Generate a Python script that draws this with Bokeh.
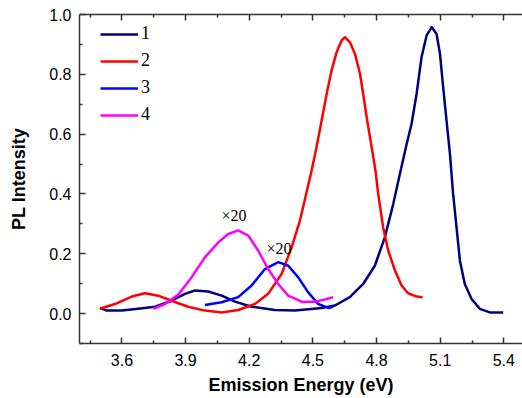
from bokeh.plotting import figure
from bokeh.models import Range1d, FixedTicker, LinearAxis, Label, PrintfTickFormatter, CustomJSTickFormatter
from bokeh.embed import file_html
from bokeh.resources import INLINE

# Curve 1 (navy)
x1 = [3.496, 3.528, 3.599, 3.677, 3.756, 3.834, 3.897, 3.944, 4.007, 4.07, 4.133, 4.211,
      4.321, 4.415, 4.541, 4.604, 4.674, 4.737, 4.792, 4.839, 4.879, 4.910, 4.942, 4.965,
      4.989, 5.012, 5.036, 5.06, 5.083, 5.099, 5.114, 5.13, 5.146, 5.161, 5.177, 5.193,
      5.216, 5.248, 5.287, 5.334, 5.397]
y1 = [0.019, 0.010, 0.010, 0.016, 0.023, 0.043, 0.066, 0.077, 0.074, 0.060, 0.040, 0.023,
      0.012, 0.010, 0.019, 0.027, 0.055, 0.099, 0.160, 0.255, 0.367, 0.467, 0.567, 0.634,
      0.735, 0.857, 0.930, 0.958, 0.935, 0.869, 0.757, 0.645, 0.534, 0.400, 0.289, 0.177,
      0.099, 0.049, 0.016, 0.004, 0.004]

# Curve 2 (red)
x2 = [3.496, 3.567, 3.646, 3.708, 3.771, 3.834, 3.912, 3.991, 4.07, 4.148, 4.227, 4.289,
      4.353, 4.40, 4.439, 4.465, 4.494, 4.517, 4.541, 4.565, 4.588, 4.612, 4.635, 4.651,
      4.675, 4.698, 4.722, 4.737, 4.756, 4.777, 4.795, 4.808, 4.831, 4.855, 4.887, 4.918,
      4.949, 4.989, 5.017]
y2 = [0.016, 0.032, 0.057, 0.068, 0.060, 0.043, 0.023, 0.010, 0.004, 0.012, 0.032, 0.066,
      0.133, 0.222, 0.311, 0.390, 0.478, 0.556, 0.645, 0.735, 0.813, 0.874, 0.913, 0.924,
      0.907, 0.869, 0.802, 0.735, 0.645, 0.556, 0.478, 0.400, 0.289, 0.211, 0.144, 0.094,
      0.068, 0.057, 0.055]

# Curve 3 (blue, x20)
x3 = [3.991, 4.07, 4.148, 4.211, 4.274, 4.337, 4.384, 4.431, 4.478, 4.525, 4.572, 4.596]
y3 = [0.029, 0.038, 0.055, 0.094, 0.149, 0.172, 0.160, 0.121, 0.071, 0.032, 0.019, 0.023]

# Curve 4 (magenta, x20)
x4 = [3.748, 3.803, 3.866, 3.928, 3.991, 4.054, 4.101, 4.148, 4.195, 4.242, 4.289, 4.337,
      4.384, 4.447, 4.51, 4.557, 4.596]
y4 = [0.016, 0.032, 0.064, 0.121, 0.188, 0.238, 0.266, 0.278, 0.261, 0.211, 0.149, 0.099,
      0.060, 0.040, 0.040, 0.047, 0.055]

series_names = ["1", "2", "3", "4"]
series_colors = ["#000080", "#FF0000", "#0000FF", "#FF00FF"]

x_major = [3.6, 3.9, 4.2, 4.5, 4.8, 5.1, 5.4]
x_minor = [3.45, 3.75, 4.05, 4.35, 4.65, 4.95, 5.25]
y_major = [0.0, 0.2, 0.4, 0.6, 0.8, 1.0]
y_minor = [-0.1, 0.1, 0.3, 0.5, 0.7, 0.9]

ann_text = ["×20", "×20"]
ann_x = [4.128, 4.34]
ann_y = [0.328, 0.217]

p = figure(width=522, height=398, output_backend="svg", toolbar_location=None,
           x_range=Range1d(3.4, 5.488), y_range=Range1d(-0.1, 1.0),
           min_border_left=79, min_border_right=0, min_border_top=14, min_border_bottom=55)
p.outline_line_color = None
p.xgrid.visible = False
p.ygrid.visible = False
p.background_fill_color = "white"
p.border_fill_color = "white"

axis_color = "#333333"
for ax in (p.xaxis[0], p.yaxis[0]):
    ax.axis_line_color = axis_color
    ax.axis_line_width = 1.5
    ax.major_tick_line_color = axis_color
    ax.minor_tick_line_color = axis_color
    ax.major_tick_line_width = 1.5
    ax.minor_tick_line_width = 1.5
    ax.major_tick_in = 6
    ax.major_tick_out = 0
    ax.minor_tick_in = 3
    ax.minor_tick_out = 0
    ax.major_label_text_font = "Liberation Sans"
    ax.major_label_text_font_size = "16px"
    ax.major_label_text_color = "black"
    ax.axis_label_text_font = "Liberation Sans"
    ax.axis_label_text_font_style = "bold"
    ax.axis_label_text_font_size = "18px"
    ax.axis_label_text_color = "black"
    ax.formatter = PrintfTickFormatter(format="%.1f")

p.xaxis[0].ticker = FixedTicker(ticks=x_major, minor_ticks=x_minor)
p.yaxis[0].ticker = FixedTicker(ticks=y_major, minor_ticks=y_minor)
p.xaxis[0].major_label_standoff = 10
p.xaxis[0].axis_label_standoff = 6
p.yaxis[0].major_label_standoff = 8
p.yaxis[0].axis_label_standoff = 17
p.xaxis[0].axis_label = "Emission Energy (eV)"
p.yaxis[0].axis_label = "PL Intensity"

top = LinearAxis(ticker=FixedTicker(ticks=x_major, minor_ticks=x_minor),
                 formatter=CustomJSTickFormatter(code="return '';"))
top.axis_line_color = axis_color
top.axis_line_width = 1.5
top.major_tick_line_color = axis_color
top.minor_tick_line_color = axis_color
top.major_tick_line_width = 1.5
top.minor_tick_line_width = 1.5
top.major_tick_in = 6
top.major_tick_out = 0
top.minor_tick_in = 3
top.minor_tick_out = 0
top.major_label_standoff = 0
p.add_layout(top, "above")

xs = [x1, x2, x3, x4]
ys = [y1, y2, y3, y4]
for xv, yv, nm, c in zip(xs, ys, series_names, series_colors):
    p.line(xv, yv, line_color=c, line_width=2.5, legend_label=nm, line_join="round")

for t, ax_, ay_ in zip(ann_text, ann_x, ann_y):
    p.add_layout(Label(x=ax_, y=ay_, text=t, text_font="Liberation Serif",
                       text_font_size="16px", text_align="center",
                       text_baseline="middle", text_color="black"))

lg = p.legend[0]
lg.location = (21, 218)
lg.padding = 0
lg.margin = 0
lg.spacing = 6
lg.glyph_width = 38
lg.glyph_height = 20
lg.label_height = 20
lg.label_standoff = 3
lg.label_text_font = "Liberation Serif"
lg.label_text_font_size = "18px"
lg.label_text_color = "black"
lg.border_line_color = None
lg.background_fill_alpha = 0

open("out.html", "w").write(file_html(p, INLINE))
